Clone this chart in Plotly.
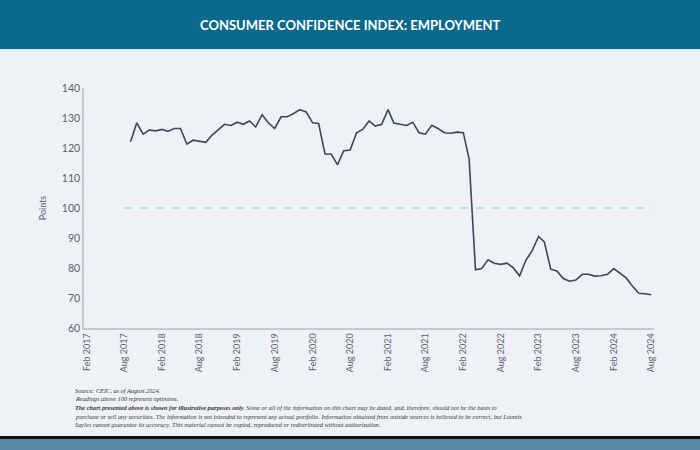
import plotly.graph_objects as go
import pandas as pd

# ---- data ----
start_month = "2017-09-01"
values = [
    122.1, 128.4, 124.6, 126.0, 125.7, 126.2, 125.5, 126.5, 126.5, 121.3, 122.6, 122.3,
    121.9, 124.3, 126.2, 127.9, 127.5, 128.6, 127.9, 129.0, 127.0, 131.1, 128.4, 126.5,
    130.4, 130.4, 131.5, 132.8, 132.0, 128.4, 128.2, 118.0, 118.0, 114.4, 119.1, 119.3,
    125.1, 126.2, 129.0, 127.3, 127.9, 132.8, 128.3, 127.8, 127.5, 128.6, 125.1, 124.6,
    127.6, 126.5, 125.1, 124.9, 125.3, 125.1, 116.4, 79.4, 79.8, 82.7, 81.6, 81.2,
    81.6, 80.1, 77.4, 82.5, 85.8, 90.5, 88.7, 79.6, 79.0, 76.5, 75.6, 76.0,
    77.9, 77.9, 77.3, 77.4, 77.9, 79.8, 78.4, 76.7, 74.0, 71.6, 71.4, 71.1,
]
dates = pd.date_range(start_month, periods=len(values), freq="MS")

tick_dates = pd.date_range("2017-02-01", "2024-08-01", freq="6MS")
tick_labels = [d.strftime("%b %Y") for d in tick_dates]
y_ticks = [60, 70, 80, 90, 100, 110, 120, 130, 140]

threshold = 100
threshold_x = ["2017-08-01", "2024-08-12"]

title = "CONSUMER CONFIDENCE INDEX: EMPLOYMENT"
footer_lines = [
    "Source: CEIC, as of August 2024.",
    "Readings above 100 represent optimism.",
    "<b>The chart presented above is shown for illustrative purposes only.</b> Some or all of the information on this chart may be dated, and, therefore, should not be the basis to",
    "purchase or sell any securities. The information is not intended to represent any actual portfolio. Information obtained from outside sources is believed to be correct, but Loomis",
    "Sayles cannot guarantee its accuracy. This material cannot be copied, reproduced or redistributed without authorization.",
]

BG = "#eef2f7"
HEADER = "#08698c"
LINE = "#3b4759"
AXIS = "#c3cad3"

fig = go.Figure()
fig.add_trace(go.Scatter(
    x=threshold_x, y=[threshold, threshold], mode="lines",
    line=dict(color="#a9d9e8", width=1.5, dash="8px,8px"),
    hoverinfo="skip", showlegend=False,
))
fig.add_trace(go.Scatter(
    x=dates, y=values, mode="lines",
    line=dict(color=LINE, width=1.6), showlegend=False,
))

fig.update_layout(
    width=700, height=450,
    paper_bgcolor=BG, plot_bgcolor=BG,
    margin=dict(l=84, r=46, t=88, b=122),
    font=dict(family="Lato, sans-serif", color="#555c66"),
    xaxis=dict(
        type="date",
        range=["2017-01-18", "2024-08-14"],
        tickvals=tick_dates, ticktext=tick_labels,
        tickangle=-90, tickfont=dict(size=9, color="#5a606a"),
        showgrid=False, zeroline=False,
        showline=True, linecolor=AXIS, linewidth=1.5,
        ticks="", ticklen=0,
    ),
    yaxis=dict(
        range=[60, 140], tickvals=y_ticks,
        tickfont=dict(size=10.5, color="#5a606a"),
        showgrid=False, zeroline=False,
        showline=True, linecolor=AXIS, linewidth=1.5,
        ticks="", ticklen=0,
        title=dict(text="Points", font=dict(size=9, color="#5a606a"), standoff=14),
    ),
)

H = 450.0
plot_h = H - 88 - 122
def py(pix):
    return (H - 122 - pix) / plot_h

plot_w = 700 - 84 - 46
def px(pix):
    return (pix - 84) / plot_w

fig.add_shape(type="rect", xref="paper", yref="paper",
              x0=px(0), x1=px(700), y0=py(49), y1=py(0),
              fillcolor=HEADER, line=dict(width=0), layer="below")
fig.add_shape(type="rect", xref="paper", yref="paper",
              x0=px(0), x1=px(700), y0=py(52), y1=py(49),
              fillcolor="#e2ecf3", line=dict(width=0), layer="below")
fig.add_shape(type="rect", xref="paper", yref="paper",
              x0=px(0), x1=px(700), y0=py(439), y1=py(436),
              fillcolor="#111111", line=dict(width=0), layer="below")
fig.add_shape(type="rect", xref="paper", yref="paper",
              x0=px(0), x1=px(700), y0=py(450), y1=py(439),
              fillcolor="#5b87a6", line=dict(width=0), layer="below")

fig.add_annotation(
    text="<b>" + title + "</b>", xref="paper", yref="paper",
    x=px(350), y=py(25), xanchor="center", yanchor="middle", showarrow=False,
    font=dict(family="Lato, sans-serif", size=13, color="white"),
)

for i, line in enumerate(footer_lines):
    fig.add_annotation(
        text="<i>" + line + "</i>", xref="paper", yref="paper",
        x=px(73), y=py(390 + i * 8.7), xanchor="left", yanchor="middle", showarrow=False,
        font=dict(family="Liberation Serif, serif", size=6.3, color="#333333"),
    )

fig.write_html(
    "out.html",
    config={"displayModeBar": False},
    post_script="document.body.style.margin='0';document.body.style.overflow='hidden';",
)
